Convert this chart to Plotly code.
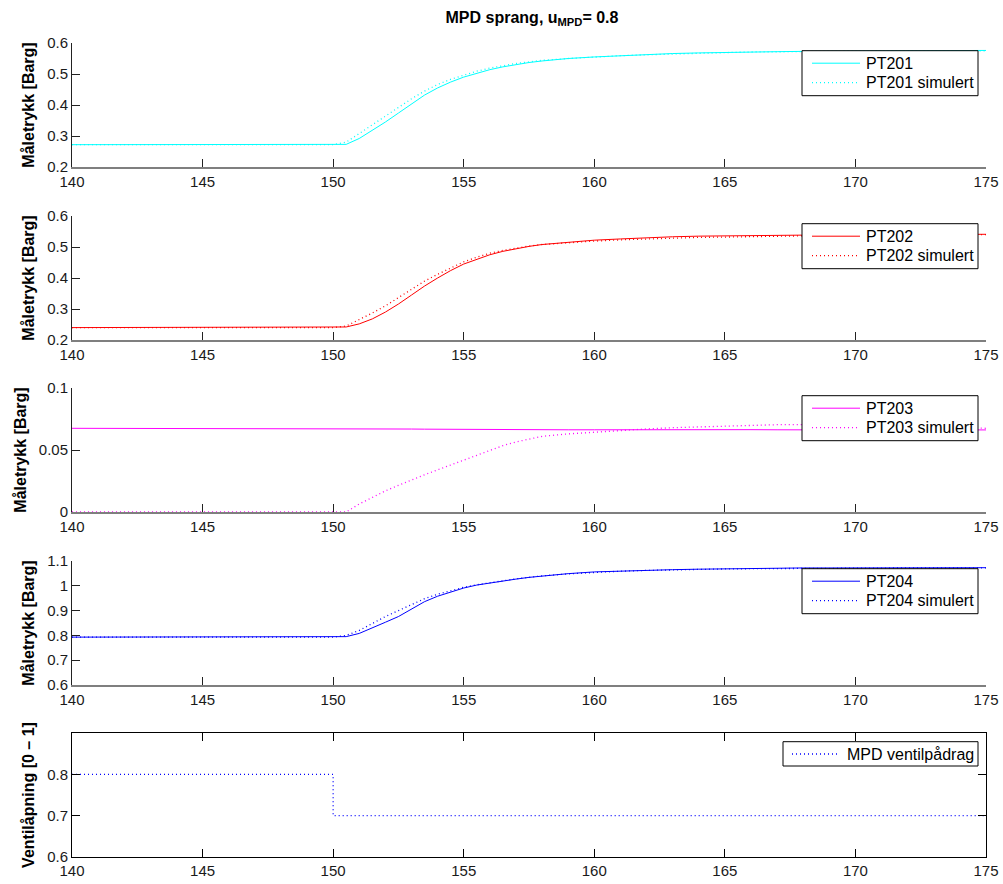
import plotly.graph_objects as go

# Time base (s) for the pressure series
t = [140, 142, 144, 146, 148, 150, 150.5, 151, 151.5, 152, 152.5, 153, 153.5,
     154, 154.5, 155, 155.5, 156, 156.5, 157, 157.5, 158, 159, 160, 161, 162,
     163, 164, 165, 166, 167, 168, 169, 170, 172, 175]

pt201 = [0.272, 0.272, 0.272, 0.273, 0.274, 0.272, 0.273, 0.292, 0.318, 0.345,
         0.374, 0.404, 0.432, 0.455, 0.474, 0.490, 0.503, 0.514, 0.523, 0.531,
         0.537, 0.542, 0.550, 0.555, 0.559, 0.563, 0.566, 0.568, 0.570, 0.571,
         0.572, 0.573, 0.573, 0.574, 0.575, 0.576]
pt201_sim = [0.272, 0.272, 0.272, 0.272, 0.272, 0.272, 0.280, 0.308, 0.336, 0.364,
             0.392, 0.420, 0.445, 0.466, 0.483, 0.497, 0.509, 0.519, 0.527, 0.534,
             0.539, 0.544, 0.550, 0.555, 0.559, 0.562, 0.565, 0.567, 0.569, 0.571,
             0.572, 0.573, 0.573, 0.574, 0.575, 0.575]

pt202 = [0.240, 0.240, 0.241, 0.241, 0.241, 0.241, 0.242, 0.252, 0.268, 0.290,
         0.316, 0.345, 0.374, 0.400, 0.424, 0.445, 0.461, 0.475, 0.486, 0.495,
         0.502, 0.508, 0.516, 0.522, 0.526, 0.530, 0.533, 0.535, 0.536, 0.537,
         0.538, 0.539, 0.539, 0.540, 0.540, 0.541]
pt202_sim = [0.240, 0.240, 0.240, 0.240, 0.240, 0.240, 0.245, 0.265, 0.287, 0.310,
             0.337, 0.365, 0.390, 0.412, 0.433, 0.452, 0.467, 0.480, 0.489, 0.497,
             0.503, 0.508, 0.514, 0.519, 0.523, 0.526, 0.529, 0.531, 0.532, 0.534,
             0.535, 0.536, 0.537, 0.537, 0.538, 0.540]

pt203 = [0.0675, 0.0675, 0.0674, 0.0674, 0.0673, 0.0673, 0.0673, 0.0672, 0.0672,
         0.0671, 0.0670, 0.0669, 0.0668, 0.0667, 0.0666, 0.0665, 0.0665, 0.0665,
         0.0664, 0.0664, 0.0664, 0.0663, 0.0663, 0.0663, 0.0664, 0.0665, 0.0665,
         0.0665, 0.0665, 0.0664, 0.0663, 0.0662, 0.0661, 0.0660, 0.0661, 0.0662]
pt203_sim = [0.0, 0.0, 0.0, 0.0, 0.0, 0.0, 0.0, 0.0065, 0.0120, 0.0170, 0.0215,
             0.0260, 0.0300, 0.0340, 0.0380, 0.0420, 0.0460, 0.0500, 0.0535,
             0.0565, 0.0590, 0.0610, 0.0630, 0.0645, 0.0660, 0.0670, 0.0680,
             0.0687, 0.0695, 0.0700, 0.0704, 0.0705, 0.0700, 0.0695, 0.0685,
             0.0675]

pt204 = [0.793, 0.793, 0.794, 0.794, 0.794, 0.794, 0.795, 0.808, 0.832, 0.853,
         0.876, 0.906, 0.936, 0.958, 0.976, 0.991, 1.003, 1.012, 1.020, 1.027,
         1.034, 1.040, 1.049, 1.056, 1.060, 1.063, 1.065, 1.067, 1.069, 1.070,
         1.071, 1.072, 1.072, 1.072, 1.073, 1.073]
pt204_sim = [0.793, 0.793, 0.793, 0.793, 0.793, 0.793, 0.800, 0.820, 0.848, 0.876,
             0.900, 0.925, 0.948, 0.966, 0.981, 0.994, 1.004, 1.013, 1.021, 1.028,
             1.034, 1.040, 1.048, 1.055, 1.059, 1.062, 1.065, 1.067, 1.068, 1.069,
             1.070, 1.071, 1.071, 1.071, 1.072, 1.072]

# Valve command (step from 0.8 to 0.7 at t = 150 s)
t_valve = [140, 150, 150, 175]
valve = [0.8, 0.8, 0.7, 0.7]

x_ticks = [140, 145, 150, 155, 160, 165, 170, 175]

W, H = 1003, 884
FONT = "Liberation Sans, Arial, Helvetica, sans-serif"
DOT = "1px,3px"
DOT_W = 1.3

fig = go.Figure()
shapes, annotations = [], []

def px(x):
    return x / W

def py(y):
    return 1 - y / H

def add_legend(box, entries, sample_x, text_x):
    """Boxed legend: box=(x0, y0, x1, y1) px; entries=[(row_y, label, colour, dash)]."""
    x0, y0, x1, y1 = box
    shapes.append(dict(type="rect", xref="paper", yref="paper",
                       x0=px(x0), x1=px(x1), y0=py(y1), y1=py(y0),
                       fillcolor="white", line=dict(color="black", width=1),
                       layer="above"))
    for row_y, label, colour, dash in entries:
        shapes.append(dict(type="line", xref="paper", yref="paper",
                           x0=px(sample_x[0]), x1=px(sample_x[1]),
                           y0=py(row_y), y1=py(row_y),
                           line=dict(color=colour, width=1 if dash == "solid" else DOT_W,
                                     dash=dash),
                           layer="above"))
        annotations.append(dict(text=label, xref="paper", yref="paper",
                                x=px(text_x), y=py(row_y), xanchor="left",
                                yanchor="middle", showarrow=False,
                                font=dict(size=16, color="black", family=FONT)))

panels = [
    (pt201, pt201_sim, "#00ffff", "PT201", [0.2, 0.6], [0.2, 0.3, 0.4, 0.5, 0.6], (43, 167)),
    (pt202, pt202_sim, "#ff0000", "PT202", [0.2, 0.6], [0.2, 0.3, 0.4, 0.5, 0.6], (216, 340)),
    (pt203, pt203_sim, "#ff00ff", "PT203", [0.0, 0.1], [0, 0.05, 0.1], (388, 512)),
    (pt204, pt204_sim, "#0000ff", "PT204", [0.6, 1.1], [0.6, 0.7, 0.8, 0.9, 1.0, 1.1], (561, 685)),
]

layout = dict(
    width=W, height=H,
    margin=dict(l=0, r=0, t=0, b=0, autoexpand=False),
    paper_bgcolor="white", plot_bgcolor="white",
    font=dict(family=FONT, size=15, color="#1a1a1a"),
    showlegend=False,
)

x0, x1 = px(72), px(986)

for i, (meas, sim, col, name, yr, yt, (ytop, ybot)) in enumerate(panels, start=1):
    sfx = "" if i == 1 else str(i)
    fig.add_trace(go.Scatter(x=t, y=meas, mode="lines", name=name,
                             line=dict(color=col, width=1),
                             xaxis=f"x{sfx}", yaxis=f"y{sfx}"))
    fig.add_trace(go.Scatter(x=t, y=sim, mode="lines", name=f"{name} simulert",
                             line=dict(color=col, width=DOT_W, dash=DOT),
                             xaxis=f"x{sfx}", yaxis=f"y{sfx}"))
    layout[f"xaxis{sfx}"] = dict(
        domain=[x0, x1], range=[140, 175], anchor=f"y{sfx}",
        tickvals=x_ticks, ticks="inside", ticklen=8, tickcolor="#222",
        showline=True, linecolor="#7f7f7f", linewidth=2,
        showgrid=False, zeroline=False, automargin=False,
    )
    layout[f"yaxis{sfx}"] = dict(
        domain=[py(ybot), py(ytop)], range=yr, anchor=f"x{sfx}",
        tickvals=yt, ticks="inside", ticklen=8, tickcolor="#222",
        showline=True, linecolor="#222", linewidth=1,
        showgrid=False, zeroline=False, automargin=False,
        title=dict(text="<b>Måletrykk [Barg]</b>",
                   font=dict(size=16, color="black"), standoff=8),
    )
    top = ytop + 7.7
    add_legend((802, top, 978, top + 45),
               [(top + 12.5, name, col, "solid"),
                (top + 32, f"{name} simulert", col, DOT)],
               sample_x=(812, 860), text_x=864)

# Valve command panel (boxed axes)
fig.add_trace(go.Scatter(x=t_valve, y=valve, mode="lines", name="MPD ventilpådrag",
                         line=dict(color="#0000ff", width=DOT_W, dash=DOT),
                         xaxis="x5", yaxis="y5"))
layout["xaxis5"] = dict(
    domain=[x0, x1], range=[140, 175], anchor="y5",
    tickvals=x_ticks, ticks="inside", ticklen=8, tickcolor="black",
    showline=True, linecolor="black", linewidth=1, mirror="ticks",
    showgrid=False, zeroline=False, automargin=False,
)
layout["yaxis5"] = dict(
    domain=[py(857), py(733)], range=[0.6, 0.9], anchor="x5",
    tickvals=[0.6, 0.7, 0.8], ticks="inside", ticklen=8, tickcolor="black",
    showline=True, linecolor="black", linewidth=1, mirror="ticks",
    showgrid=False, zeroline=False, automargin=False,
    title=dict(text="<b>Ventilåpning [0 – 1]</b>",
               font=dict(size=16, color="black"), standoff=8),
)
add_legend((783, 741.7, 978, 766),
           [(754, "MPD ventilpådrag", "#0000ff", DOT)],
           sample_x=(792, 838), text_x=845)

layout["title"] = dict(
    text="<b>MPD sprang, u<sub>MPD</sub>= 0.8</b>",
    x=px(532), xanchor="center", xref="paper",
    y=py(17), yanchor="middle", yref="paper",
    font=dict(size=16, color="black", family=FONT),
)
layout["shapes"] = shapes
layout["annotations"] = annotations

fig.update_layout(**layout)
fig.write_html("out.html")
